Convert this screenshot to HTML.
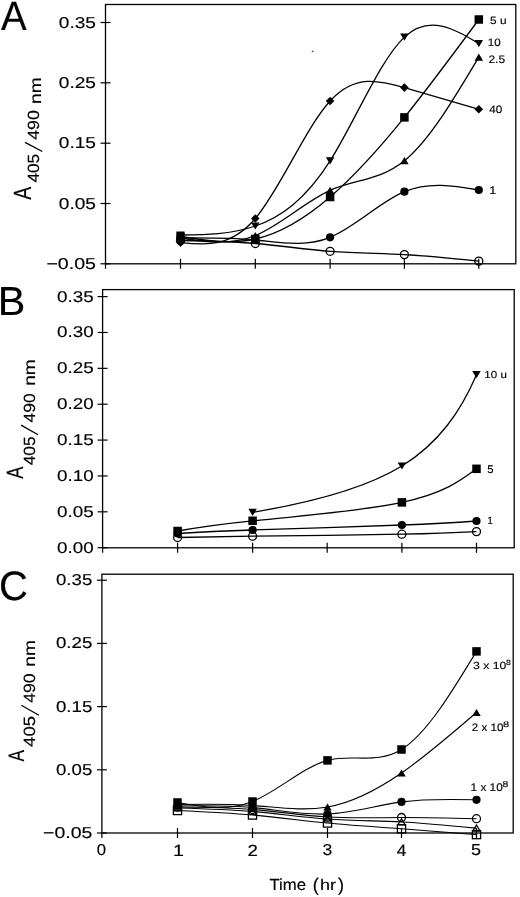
<!DOCTYPE html><html><head><meta charset="utf-8"><style>html,body{margin:0;padding:0;background:#fff;width:520px;height:897px;overflow:hidden}text{stroke:#000;stroke-width:0.15px;text-rendering:geometricPrecision}</style></head><body><svg width="520" height="897" viewBox="0 0 520 897" style="position:absolute;left:0;top:0;will-change:transform;font-family:'Liberation Sans', sans-serif;fill:#000">
<rect width="520" height="897" fill="#fff"/>
<rect x="105.5" y="4.5" width="410.29999999999995" height="259.3" fill="none" stroke="#000" stroke-width="1.3"/>
<line x1="100.50" y1="22.50" x2="110.50" y2="22.50" stroke="#000" stroke-width="1.2"/>
<line x1="100.50" y1="82.80" x2="110.50" y2="82.80" stroke="#000" stroke-width="1.2"/>
<line x1="100.50" y1="143.20" x2="110.50" y2="143.20" stroke="#000" stroke-width="1.2"/>
<line x1="100.50" y1="203.50" x2="110.50" y2="203.50" stroke="#000" stroke-width="1.2"/>
<line x1="100.50" y1="263.80" x2="110.50" y2="263.80" stroke="#000" stroke-width="1.2"/>
<line x1="105.50" y1="263.80" x2="105.50" y2="268.80" stroke="#000" stroke-width="1.2"/>
<line x1="180.50" y1="258.80" x2="180.50" y2="268.80" stroke="#000" stroke-width="1.2"/>
<line x1="255.30" y1="258.80" x2="255.30" y2="268.80" stroke="#000" stroke-width="1.2"/>
<line x1="330.10" y1="258.80" x2="330.10" y2="268.80" stroke="#000" stroke-width="1.2"/>
<line x1="404.40" y1="258.80" x2="404.40" y2="268.80" stroke="#000" stroke-width="1.2"/>
<line x1="478.80" y1="258.80" x2="478.80" y2="268.80" stroke="#000" stroke-width="1.2"/>
<path d="M180.50,240.50 C205.42,240.95 230.34,241.39 255.30,243.50 C280.26,245.61 305.25,249.38 330.10,251.30 C354.95,253.22 379.64,253.28 404.40,254.60 C429.16,255.92 453.98,258.51 478.80,261.10" fill="none" stroke="#000" stroke-width="1.3"/>
<path d="M180.50,238.00 C205.42,237.80 230.34,237.61 255.30,240.00 C280.26,242.39 305.25,247.38 330.10,237.30 C354.95,227.23 379.64,202.09 404.40,191.70 C429.16,181.31 453.98,185.65 478.80,190.00" fill="none" stroke="#000" stroke-width="1.3"/>
<path d="M180.50,238.00 C205.42,241.79 230.34,245.58 255.30,235.50 C280.26,225.42 305.25,201.46 330.10,190.30 C354.95,179.14 379.64,180.77 404.40,160.70 C429.16,140.63 453.98,98.87 478.80,57.10" fill="none" stroke="#000" stroke-width="1.3"/>
<path d="M180.50,236.50 C205.42,240.52 230.34,244.54 255.30,239.00 C280.26,233.46 305.25,218.36 330.10,197.00 C354.95,175.64 379.64,148.03 404.40,117.40 C429.16,86.77 453.98,53.14 478.80,19.50" fill="none" stroke="#000" stroke-width="1.3"/>
<path d="M180.50,235.00 C205.42,234.84 230.34,234.67 255.30,226.00 C280.26,217.33 305.25,200.15 330.10,160.90 C354.95,121.65 379.64,60.33 404.40,37.10 C429.16,13.87 453.98,28.74 478.80,43.60" fill="none" stroke="#000" stroke-width="1.3"/>
<path d="M180.50,242.60 C205.42,245.18 230.34,247.75 255.30,218.50 C280.26,189.25 305.25,128.17 330.10,101.00 C354.95,73.83 379.64,80.57 404.40,87.60 C429.16,94.63 453.98,101.97 478.80,109.30" fill="none" stroke="#000" stroke-width="1.3"/>
<circle cx="180.50" cy="240.50" r="4.0" fill="none" stroke="#000" stroke-width="1.3"/>
<circle cx="255.30" cy="243.50" r="4.0" fill="none" stroke="#000" stroke-width="1.3"/>
<circle cx="330.10" cy="251.30" r="4.0" fill="none" stroke="#000" stroke-width="1.3"/>
<circle cx="404.40" cy="254.60" r="4.0" fill="none" stroke="#000" stroke-width="1.3"/>
<circle cx="478.80" cy="261.10" r="4.0" fill="none" stroke="#000" stroke-width="1.3"/>
<circle cx="180.50" cy="238.00" r="4.1" fill="#000"/>
<circle cx="255.30" cy="240.00" r="4.1" fill="#000"/>
<circle cx="330.10" cy="237.30" r="4.1" fill="#000"/>
<circle cx="404.40" cy="191.70" r="4.1" fill="#000"/>
<circle cx="478.80" cy="190.00" r="4.1" fill="#000"/>
<path d="M176.25,241.60 L184.75,241.60 L180.50,234.40Z" fill="#000"/>
<path d="M251.05,239.10 L259.55,239.10 L255.30,231.90Z" fill="#000"/>
<path d="M325.85,193.90 L334.35,193.90 L330.10,186.70Z" fill="#000"/>
<path d="M400.15,164.30 L408.65,164.30 L404.40,157.10Z" fill="#000"/>
<path d="M474.55,60.70 L483.05,60.70 L478.80,53.50Z" fill="#000"/>
<rect x="176.25" y="232.25" width="8.50" height="8.50" fill="#000"/>
<rect x="251.05" y="234.75" width="8.50" height="8.50" fill="#000"/>
<rect x="325.85" y="192.75" width="8.50" height="8.50" fill="#000"/>
<rect x="400.15" y="113.15" width="8.50" height="8.50" fill="#000"/>
<rect x="474.55" y="15.25" width="8.50" height="8.50" fill="#000"/>
<path d="M176.25,231.40 L184.75,231.40 L180.50,238.60Z" fill="#000"/>
<path d="M251.05,222.40 L259.55,222.40 L255.30,229.60Z" fill="#000"/>
<path d="M325.85,157.30 L334.35,157.30 L330.10,164.50Z" fill="#000"/>
<path d="M400.15,33.50 L408.65,33.50 L404.40,40.70Z" fill="#000"/>
<path d="M474.55,40.00 L483.05,40.00 L478.80,47.20Z" fill="#000"/>
<path d="M180.50,238.30 L184.80,242.60 L180.50,246.90 L176.20,242.60Z" fill="#000"/>
<path d="M255.30,214.20 L259.60,218.50 L255.30,222.80 L251.00,218.50Z" fill="#000"/>
<path d="M330.10,96.70 L334.40,101.00 L330.10,105.30 L325.80,101.00Z" fill="#000"/>
<path d="M404.40,83.30 L408.70,87.60 L404.40,91.90 L400.10,87.60Z" fill="#000"/>
<path d="M478.80,105.00 L483.10,109.30 L478.80,113.60 L474.50,109.30Z" fill="#000"/>
<text x="58.85" y="27.55" font-size="15.82" textLength="37.15" lengthAdjust="spacingAndGlyphs">0.35</text>
<text x="58.85" y="87.85" font-size="15.82" textLength="37.15" lengthAdjust="spacingAndGlyphs">0.25</text>
<text x="58.85" y="148.25" font-size="15.82" textLength="37.15" lengthAdjust="spacingAndGlyphs">0.15</text>
<text x="58.85" y="208.55" font-size="15.82" textLength="37.15" lengthAdjust="spacingAndGlyphs">0.05</text>
<text x="46.43" y="268.85" font-size="15.82" textLength="49.59" lengthAdjust="spacingAndGlyphs">−0.05</text>
<text x="1.12" y="30.30" font-size="40.99" textLength="25.65" lengthAdjust="spacingAndGlyphs">A</text>
<text x="490.13" y="23.80" font-size="10.46" textLength="16.46" lengthAdjust="spacingAndGlyphs">5 u</text>
<text x="487.89" y="46.10" font-size="10.73" textLength="12.86" lengthAdjust="spacingAndGlyphs">10</text>
<text x="488.40" y="62.59" font-size="10.88" textLength="16.71" lengthAdjust="spacingAndGlyphs">2.5</text>
<text x="489.33" y="112.89" font-size="10.88" textLength="12.92" lengthAdjust="spacingAndGlyphs">40</text>
<text x="489.38" y="193.60" font-size="11.19" textLength="7.08" lengthAdjust="spacingAndGlyphs">1</text>
<rect x="102.6" y="289.6" width="411.6" height="258.19999999999993" fill="none" stroke="#000" stroke-width="1.3"/>
<line x1="97.60" y1="296.60" x2="107.60" y2="296.60" stroke="#000" stroke-width="1.2"/>
<line x1="97.60" y1="332.47" x2="107.60" y2="332.47" stroke="#000" stroke-width="1.2"/>
<line x1="97.60" y1="368.34" x2="107.60" y2="368.34" stroke="#000" stroke-width="1.2"/>
<line x1="97.60" y1="404.21" x2="107.60" y2="404.21" stroke="#000" stroke-width="1.2"/>
<line x1="97.60" y1="440.08" x2="107.60" y2="440.08" stroke="#000" stroke-width="1.2"/>
<line x1="97.60" y1="475.95" x2="107.60" y2="475.95" stroke="#000" stroke-width="1.2"/>
<line x1="97.60" y1="511.82" x2="107.60" y2="511.82" stroke="#000" stroke-width="1.2"/>
<line x1="97.60" y1="547.69" x2="107.60" y2="547.69" stroke="#000" stroke-width="1.2"/>
<line x1="102.60" y1="547.80" x2="102.60" y2="552.80" stroke="#000" stroke-width="1.2"/>
<line x1="177.60" y1="542.80" x2="177.60" y2="552.80" stroke="#000" stroke-width="1.2"/>
<line x1="252.60" y1="542.80" x2="252.60" y2="552.80" stroke="#000" stroke-width="1.2"/>
<line x1="327.20" y1="542.80" x2="327.20" y2="552.80" stroke="#000" stroke-width="1.2"/>
<line x1="401.90" y1="542.80" x2="401.90" y2="552.80" stroke="#000" stroke-width="1.2"/>
<line x1="476.50" y1="542.80" x2="476.50" y2="552.80" stroke="#000" stroke-width="1.2"/>
<path d="M177.60,537.50 C194.34,537.12 211.07,536.73 252.60,536.20 C294.13,535.67 360.45,534.99 401.90,534.20 C443.35,533.41 459.92,532.50 476.50,531.60" fill="none" stroke="#000" stroke-width="1.3"/>
<path d="M177.60,533.50 C194.34,532.49 211.07,531.48 252.60,530.00 C294.13,528.52 360.45,526.58 401.90,525.00 C443.35,523.42 459.92,522.21 476.50,521.00" fill="none" stroke="#000" stroke-width="1.3"/>
<path d="M177.60,531.00 C194.34,527.99 211.07,524.98 252.60,520.80 C294.13,516.62 360.45,511.26 401.90,502.40 C443.35,493.54 459.92,481.17 476.50,468.80" fill="none" stroke="#000" stroke-width="1.3"/>
<path d="M252.60,512.30 C311.70,502.49 364.58,488.93 401.90,466.00 C439.22,443.07 460.97,410.76 476.50,374.70" fill="none" stroke="#000" stroke-width="1.3"/>
<circle cx="177.60" cy="537.50" r="4.0" fill="none" stroke="#000" stroke-width="1.3"/>
<circle cx="252.60" cy="536.20" r="4.0" fill="none" stroke="#000" stroke-width="1.3"/>
<circle cx="401.90" cy="534.20" r="4.0" fill="none" stroke="#000" stroke-width="1.3"/>
<circle cx="476.50" cy="531.60" r="4.0" fill="none" stroke="#000" stroke-width="1.3"/>
<circle cx="177.60" cy="533.50" r="4.1" fill="#000"/>
<circle cx="252.60" cy="530.00" r="4.1" fill="#000"/>
<circle cx="401.90" cy="525.00" r="4.1" fill="#000"/>
<circle cx="476.50" cy="521.00" r="4.1" fill="#000"/>
<rect x="173.35" y="526.75" width="8.50" height="8.50" fill="#000"/>
<rect x="248.35" y="516.55" width="8.50" height="8.50" fill="#000"/>
<rect x="397.65" y="498.15" width="8.50" height="8.50" fill="#000"/>
<rect x="472.25" y="464.55" width="8.50" height="8.50" fill="#000"/>
<path d="M248.35,508.70 L256.85,508.70 L252.60,515.90Z" fill="#000"/>
<path d="M397.65,462.40 L406.15,462.40 L401.90,469.60Z" fill="#000"/>
<path d="M472.25,371.10 L480.75,371.10 L476.50,378.30Z" fill="#000"/>
<text x="57.06" y="301.55" font-size="15.54" textLength="36.63" lengthAdjust="spacingAndGlyphs">0.35</text>
<text x="57.07" y="337.42" font-size="15.54" textLength="36.57" lengthAdjust="spacingAndGlyphs">0.30</text>
<text x="57.06" y="373.29" font-size="15.54" textLength="36.63" lengthAdjust="spacingAndGlyphs">0.25</text>
<text x="57.07" y="409.16" font-size="15.54" textLength="36.57" lengthAdjust="spacingAndGlyphs">0.20</text>
<text x="57.06" y="445.03" font-size="15.54" textLength="36.63" lengthAdjust="spacingAndGlyphs">0.15</text>
<text x="57.07" y="480.90" font-size="15.54" textLength="36.57" lengthAdjust="spacingAndGlyphs">0.10</text>
<text x="57.06" y="516.77" font-size="15.54" textLength="36.63" lengthAdjust="spacingAndGlyphs">0.05</text>
<text x="57.07" y="552.64" font-size="15.54" textLength="36.57" lengthAdjust="spacingAndGlyphs">0.00</text>
<text x="-2.39" y="315.10" font-size="40.55" textLength="27.57" lengthAdjust="spacingAndGlyphs">B</text>
<text x="484.39" y="378.30" font-size="10.17" textLength="22.48" lengthAdjust="spacingAndGlyphs">10 u</text>
<text x="487.34" y="473.49" font-size="11.18" textLength="6.33" lengthAdjust="spacingAndGlyphs">5</text>
<text x="487.31" y="523.80" font-size="10.47" textLength="5.71" lengthAdjust="spacingAndGlyphs">1</text>
<rect x="101.9" y="574.2" width="411.30000000000007" height="258.79999999999995" fill="none" stroke="#000" stroke-width="1.3"/>
<line x1="96.90" y1="580.20" x2="106.90" y2="580.20" stroke="#000" stroke-width="1.2"/>
<line x1="96.90" y1="643.40" x2="106.90" y2="643.40" stroke="#000" stroke-width="1.2"/>
<line x1="96.90" y1="706.60" x2="106.90" y2="706.60" stroke="#000" stroke-width="1.2"/>
<line x1="96.90" y1="769.80" x2="106.90" y2="769.80" stroke="#000" stroke-width="1.2"/>
<line x1="96.90" y1="833.00" x2="106.90" y2="833.00" stroke="#000" stroke-width="1.2"/>
<line x1="101.90" y1="833.00" x2="101.90" y2="838.00" stroke="#000" stroke-width="1.2"/>
<line x1="177.50" y1="828.00" x2="177.50" y2="838.00" stroke="#000" stroke-width="1.2"/>
<line x1="252.50" y1="828.00" x2="252.50" y2="838.00" stroke="#000" stroke-width="1.2"/>
<line x1="327.50" y1="828.00" x2="327.50" y2="838.00" stroke="#000" stroke-width="1.2"/>
<line x1="401.50" y1="828.00" x2="401.50" y2="838.00" stroke="#000" stroke-width="1.2"/>
<line x1="476.50" y1="828.00" x2="476.50" y2="838.00" stroke="#000" stroke-width="1.2"/>
<path d="M177.50,810.50 C202.47,811.63 227.44,812.77 252.50,815.00 C277.56,817.23 302.71,820.57 327.50,823.00 C352.29,825.43 376.73,826.97 401.50,828.75 C426.27,830.53 451.39,832.57 476.50,834.60" fill="none" stroke="#000" stroke-width="1.1"/>
<path d="M177.50,808.00 C202.47,808.68 227.44,809.37 252.50,811.50 C277.56,813.63 302.71,817.22 327.50,819.00 C352.29,820.78 376.73,820.77 401.50,822.00 C426.27,823.23 451.39,825.72 476.50,828.20" fill="none" stroke="#000" stroke-width="1.1"/>
<path d="M177.50,807.00 C202.47,807.22 227.44,807.43 252.50,809.50 C277.56,811.57 302.71,815.49 327.50,817.00 C352.29,818.51 376.73,817.62 401.50,817.50 C426.27,817.38 451.39,818.04 476.50,818.70" fill="none" stroke="#000" stroke-width="1.1"/>
<path d="M177.50,806.00 C202.47,805.55 227.44,805.10 252.50,807.50 C277.56,809.90 302.71,815.14 327.50,814.00 C352.29,812.86 376.73,805.33 401.50,801.90 C426.27,798.47 451.39,799.13 476.50,799.80" fill="none" stroke="#000" stroke-width="1.1"/>
<path d="M177.50,804.50 C202.47,804.10 227.44,803.70 252.50,805.50 C277.56,807.30 302.71,811.29 327.50,807.00 C352.29,802.71 376.73,790.13 401.50,773.00 C426.27,755.87 451.39,734.18 476.50,712.50" fill="none" stroke="#000" stroke-width="1.1"/>
<path d="M177.50,802.50 C202.47,806.99 227.44,811.47 252.50,801.50 C277.56,791.53 302.71,767.10 327.50,760.40 C352.29,753.70 376.73,764.71 401.50,749.50 C426.27,734.29 451.39,692.84 476.50,651.40" fill="none" stroke="#000" stroke-width="1.1"/>
<rect x="173.40" y="806.40" width="8.2" height="8.2" fill="none" stroke="#000" stroke-width="1.3"/>
<rect x="248.40" y="810.90" width="8.2" height="8.2" fill="none" stroke="#000" stroke-width="1.3"/>
<rect x="323.40" y="818.90" width="8.2" height="8.2" fill="none" stroke="#000" stroke-width="1.3"/>
<rect x="397.40" y="824.65" width="8.2" height="8.2" fill="none" stroke="#000" stroke-width="1.3"/>
<rect x="472.40" y="830.50" width="8.2" height="8.2" fill="none" stroke="#000" stroke-width="1.3"/>
<path d="M173.85,811.00 L181.15,811.00 L177.50,804.80Z" fill="none" stroke="#000" stroke-width="1.2"/>
<path d="M248.85,814.50 L256.15,814.50 L252.50,808.30Z" fill="none" stroke="#000" stroke-width="1.2"/>
<path d="M323.85,822.00 L331.15,822.00 L327.50,815.80Z" fill="none" stroke="#000" stroke-width="1.2"/>
<path d="M397.85,825.00 L405.15,825.00 L401.50,818.80Z" fill="none" stroke="#000" stroke-width="1.2"/>
<path d="M472.85,831.20 L480.15,831.20 L476.50,825.00Z" fill="none" stroke="#000" stroke-width="1.2"/>
<circle cx="177.50" cy="807.00" r="4.0" fill="none" stroke="#000" stroke-width="1.3"/>
<circle cx="252.50" cy="809.50" r="4.0" fill="none" stroke="#000" stroke-width="1.3"/>
<circle cx="327.50" cy="817.00" r="4.0" fill="none" stroke="#000" stroke-width="1.3"/>
<circle cx="401.50" cy="817.50" r="4.0" fill="none" stroke="#000" stroke-width="1.3"/>
<circle cx="476.50" cy="818.70" r="4.0" fill="none" stroke="#000" stroke-width="1.3"/>
<circle cx="177.50" cy="806.00" r="4.1" fill="#000"/>
<circle cx="252.50" cy="807.50" r="4.1" fill="#000"/>
<circle cx="327.50" cy="814.00" r="4.1" fill="#000"/>
<circle cx="401.50" cy="801.90" r="4.1" fill="#000"/>
<circle cx="476.50" cy="799.80" r="4.1" fill="#000"/>
<path d="M173.25,808.10 L181.75,808.10 L177.50,800.90Z" fill="#000"/>
<path d="M248.25,809.10 L256.75,809.10 L252.50,801.90Z" fill="#000"/>
<path d="M323.25,810.60 L331.75,810.60 L327.50,803.40Z" fill="#000"/>
<path d="M397.25,776.60 L405.75,776.60 L401.50,769.40Z" fill="#000"/>
<path d="M472.25,716.10 L480.75,716.10 L476.50,708.90Z" fill="#000"/>
<rect x="173.25" y="798.25" width="8.50" height="8.50" fill="#000"/>
<rect x="248.25" y="797.25" width="8.50" height="8.50" fill="#000"/>
<rect x="323.25" y="756.15" width="8.50" height="8.50" fill="#000"/>
<rect x="397.25" y="745.25" width="8.50" height="8.50" fill="#000"/>
<rect x="472.25" y="647.15" width="8.50" height="8.50" fill="#000"/>
<text x="55.97" y="585.25" font-size="15.82" textLength="36.31" lengthAdjust="spacingAndGlyphs">0.35</text>
<text x="55.97" y="648.45" font-size="15.82" textLength="36.31" lengthAdjust="spacingAndGlyphs">0.25</text>
<text x="55.97" y="711.65" font-size="15.82" textLength="36.31" lengthAdjust="spacingAndGlyphs">0.15</text>
<text x="55.97" y="774.85" font-size="15.82" textLength="36.31" lengthAdjust="spacingAndGlyphs">0.05</text>
<text x="43.04" y="838.05" font-size="15.82" textLength="49.28" lengthAdjust="spacingAndGlyphs">−0.05</text>
<text x="-1.04" y="599.70" font-size="41.10" textLength="28.96" lengthAdjust="spacingAndGlyphs">C</text>
<text x="473.04" y="668.50" font-size="10.31" textLength="33.24" lengthAdjust="spacingAndGlyphs">3 x 10</text>
<text x="505.92" y="664.73" font-size="7.63" textLength="4.86" lengthAdjust="spacingAndGlyphs">8</text>
<text x="471.72" y="731.29" font-size="10.88" textLength="31.64" lengthAdjust="spacingAndGlyphs">2 x 10</text>
<text x="503.02" y="727.42" font-size="7.91" textLength="6.16" lengthAdjust="spacingAndGlyphs">8</text>
<text x="470.56" y="790.69" font-size="11.02" textLength="32.20" lengthAdjust="spacingAndGlyphs">1 x 10</text>
<text x="502.45" y="787.02" font-size="8.62" textLength="5.81" lengthAdjust="spacingAndGlyphs">8</text>
<text x="96.75" y="855.45" font-size="15.82" textLength="9.31" lengthAdjust="spacingAndGlyphs">0</text>
<text x="173.11" y="855.60" font-size="16.28" textLength="10.96" lengthAdjust="spacingAndGlyphs">1</text>
<text x="247.46" y="855.60" font-size="16.04" textLength="10.38" lengthAdjust="spacingAndGlyphs">2</text>
<text x="322.53" y="855.45" font-size="15.82" textLength="9.74" lengthAdjust="spacingAndGlyphs">3</text>
<text x="396.80" y="855.60" font-size="16.28" textLength="9.60" lengthAdjust="spacingAndGlyphs">4</text>
<text x="471.08" y="855.44" font-size="16.05" textLength="9.97" lengthAdjust="spacingAndGlyphs">5</text>
<text x="269.53" y="890.24" font-size="16.10" textLength="36.50" lengthAdjust="spacingAndGlyphs">Time</text>
<text x="312.78" y="890.78" font-size="18.46" textLength="6.03" lengthAdjust="spacingAndGlyphs">(</text>
<text x="320.05" y="890.30" font-size="15.32" textLength="16.05" lengthAdjust="spacingAndGlyphs">hr</text>
<text x="337.89" y="890.78" font-size="18.46" textLength="6.03" lengthAdjust="spacingAndGlyphs">)</text>
<text x="-199.64" y="31.30" font-size="24.86" textLength="13.08" lengthAdjust="spacingAndGlyphs" transform="rotate(-90)">A</text>
<text x="-182.60" y="38.74" font-size="16.24" textLength="28.72" lengthAdjust="spacingAndGlyphs" transform="rotate(-90)">405</text>
<line x1="42.30" y1="151.50" x2="25.10" y2="142.40" stroke="#000" stroke-width="1.3"/>
<text x="-139.81" y="38.74" font-size="16.24" textLength="29.60" lengthAdjust="spacingAndGlyphs" transform="rotate(-90)">490</text>
<text x="-103.98" y="41.30" font-size="15.98" textLength="26.75" lengthAdjust="spacingAndGlyphs" transform="rotate(-90)">nm</text>
<text x="-478.74" y="22.90" font-size="23.55" textLength="12.17" lengthAdjust="spacingAndGlyphs" transform="rotate(-90)">A</text>
<text x="-465.30" y="34.74" font-size="16.24" textLength="28.82" lengthAdjust="spacingAndGlyphs" transform="rotate(-90)">405</text>
<line x1="38.10" y1="434.70" x2="21.10" y2="425.10" stroke="#000" stroke-width="1.3"/>
<text x="-422.50" y="34.74" font-size="16.24" textLength="29.18" lengthAdjust="spacingAndGlyphs" transform="rotate(-90)">490</text>
<text x="-385.87" y="34.80" font-size="15.98" textLength="26.53" lengthAdjust="spacingAndGlyphs" transform="rotate(-90)">nm</text>
<text x="-761.53" y="24.20" font-size="22.38" textLength="11.57" lengthAdjust="spacingAndGlyphs" transform="rotate(-90)">A</text>
<text x="-746.93" y="35.44" font-size="16.38" textLength="31.01" lengthAdjust="spacingAndGlyphs" transform="rotate(-90)">405</text>
<line x1="38.90" y1="715.20" x2="21.40" y2="705.30" stroke="#000" stroke-width="1.3"/>
<text x="-702.81" y="35.44" font-size="16.38" textLength="29.50" lengthAdjust="spacingAndGlyphs" transform="rotate(-90)">490</text>
<text x="-666.67" y="35.40" font-size="15.80" textLength="26.64" lengthAdjust="spacingAndGlyphs" transform="rotate(-90)">nm</text>
<ellipse cx="312.6" cy="51.4" rx="1.1" ry="0.8" fill="#555" transform="rotate(-35 312.6 51.4)"/>
</svg></body></html>
